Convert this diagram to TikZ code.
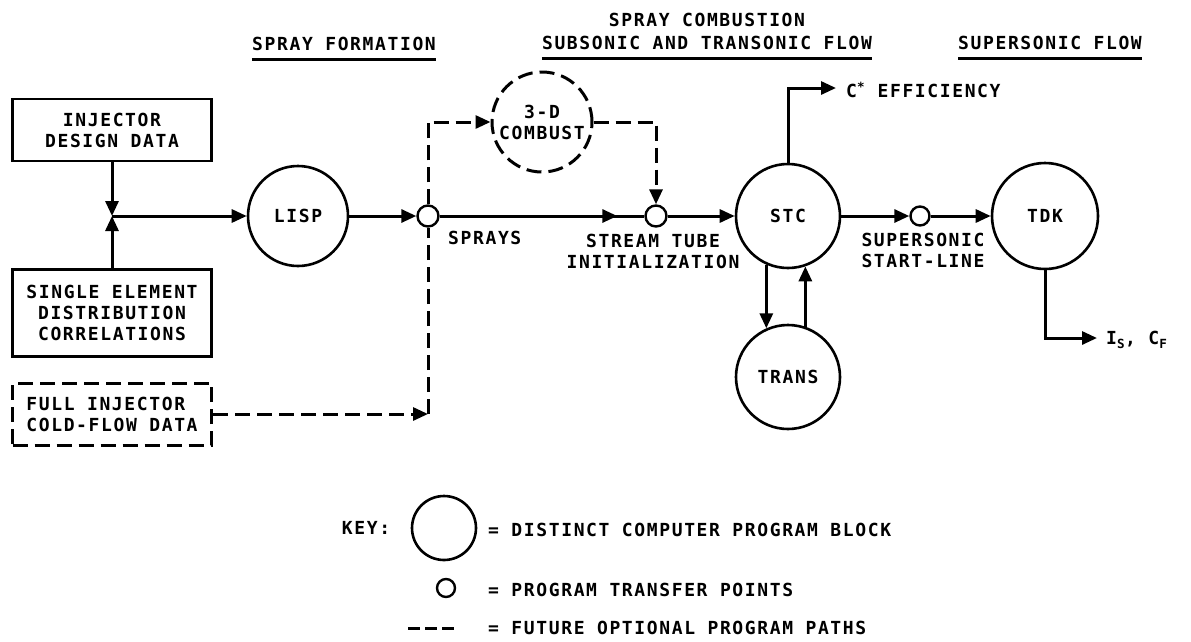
\documentclass[tikz,border=0pt]{standalone}
\usepackage{fontspec}
\setmainfont{DejaVu Sans Mono}[LetterSpace=9]
\usetikzlibrary{arrows.meta, decorations.markings, positioning, calc}

\begin{document}
\begin{tikzpicture}[x=1pt, y=-1pt,
  every node/.style={font=\bfseries\fontsize{18}{21}\selectfont, inner sep=0pt},
  wire/.style={line width=3pt},
  flow/.style={wire, -{Triangle[length=15pt, width=13pt]}},
  fut/.style={wire, dash pattern=on 15pt off 7pt},
  futflow/.style={fut, -{Triangle[length=15pt, width=13pt]}},
  prog/.style={circle, draw, line width=2.6pt, minimum size=104pt, align=center},
  xfer/.style={circle, draw, line width=2.4pt, minimum size=21pt},
  databox/.style={draw, line width=2.6pt, minimum width=199pt, align=center},
  uline/.style={line width=3pt}]
  \useasboundingbox (0,0) rectangle (1191,641);

  % section headings
  \node (hform) at (344,44) {SPRAY FORMATION};
  \node (hcomb) at (707,20) {SPRAY COMBUSTION};
  \node (hsub) at (707,43) {SUBSONIC AND TRANSONIC FLOW};
  \node (hsup) at (1050,43) {SUPERSONIC FLOW};
  \foreach \h in {hform,hsub,hsup}
    \draw[uline] ([yshift=-9pt]\h.base west) -- ([yshift=-9pt]\h.base east);

  % input data
  \node[databox, minimum height=62pt] (design) at (112,130) {INJECTOR\\DESIGN DATA};
  \node[databox, minimum height=87pt] (single) at (112,313)
    {SINGLE ELEMENT\\DISTRIBUTION\\CORRELATIONS};
  \node[databox, fut, minimum height=62pt, align=left] (cold) at (112,414)
    {FULL INJECTOR\\COLD-FLOW DATA};
  \coordinate (junc) at (112,216);

  % program blocks and transfer points
  \node[prog, minimum size=100pt] (lisp) at (298,216) {LISP};
  \node[xfer] (t1) at (428,216) {};
  \node[prog, fut, minimum size=100pt] (comb) at (542,122) {3-D\\COMBUST};
  \node[xfer] (t2) at (656,216) {};
  \node[prog] (stc) at (788,216) {STC};
  \node[xfer, minimum size=19pt] (t3) at (920,216) {};
  \node[prog, minimum size=106pt] (tdk) at (1045,216) {TDK};
  \node[prog] (trans) at (788,377) {TRANS};

  % labels
  \node[anchor=west] (sprays) at (448,238) {SPRAYS};
  \node[align=center] (stream) at (653,251) {STREAM TUBE\\INITIALIZATION};
  \node[align=center] (sstart) at (923,250) {SUPERSONIC\\START-LINE};
  \coordinate (ceff) at (836,88);
  \node[anchor=west] (ceffl) at (846,90) {C\textsuperscript{*} EFFICIENCY};
  \coordinate (isout) at (1097,338);
  \node[anchor=west] (isl) at (1106,340) {I\textsubscript{S}, C\textsubscript{F}};

  % main flow
  \draw[flow] (design) -- (junc);
  \draw[flow] (single) -- (junc);
  \draw[flow] (junc) -- (lisp);
  \draw[flow] (lisp) -- (t1);
  \draw[wire, postaction={decorate}, decoration={markings,
    mark=at position -27pt with {\arrow{Triangle[length=15pt, width=13pt]}}}]
    (t1) -- (t2);
  \draw[flow] (t2) -- (stc);
  \draw[flow] (stc) -- (t3);
  \draw[flow] (t3) -- (tdk);
  \draw[flow] (stc.north) |- (ceff);
  \draw[flow] (tdk.south) |- (isout);
  \draw[flow] (stc.246) -- (trans.114);
  \draw[flow] (trans.71) -- (stc.289);

  % optional paths
  \draw[futflow] (cold.east) -- (t1 |- cold.east);
  \draw[fut] (t1 |- cold.east) -- (t1.south);
  \draw[futflow] (t1.north) |- (comb.west);
  \draw[futflow] (comb.east) -| (t2.north);

  % key
  \node (keyl) at (366,528) {KEY:};
  \node[prog, minimum size=64pt] (keybig) at (444,528) {};
  \node[xfer, minimum size=18pt] (keysmall) at (446,588) {};
  \coordinate (keyd1) at (408,628);
  \coordinate (keyd2) at (455,628);
  \draw[wire, dash pattern=on 12pt off 5pt] (keyd1) -- (keyd2);
  \node[anchor=west] (keyt1) at (488,530) {= DISTINCT COMPUTER PROGRAM BLOCK};
  \node[anchor=west] (keyt2) at (488,590) {= PROGRAM TRANSFER POINTS};
  \node[anchor=west] (keyt3) at (488,628) {= FUTURE OPTIONAL PROGRAM PATHS};
\end{tikzpicture}
\end{document}
